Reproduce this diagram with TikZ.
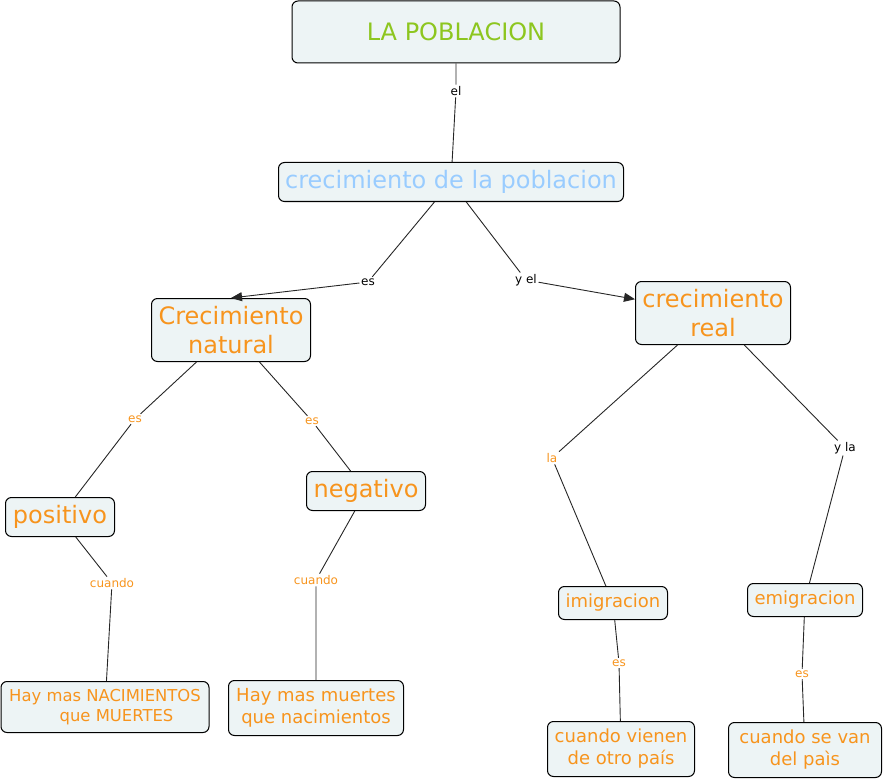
\documentclass[tikz,border=0pt]{standalone}
\usepackage{fontspec}
\setmainfont{DejaVu Sans}
\usetikzlibrary{arrows.meta}
\definecolor{boxfill}{RGB}{237,244,245}
\definecolor{titlegreen}{RGB}{141,198,31}
\definecolor{skyblue}{RGB}{153,204,255}
\definecolor{conceptorange}{RGB}{247,148,29}

\begin{document}
\begin{tikzpicture}[x=1pt, y=-1pt,
	concept/.style={draw, line width=1pt, rounded corners=6pt, fill=boxfill, align=center, inner sep=2pt, text=conceptorange},
	linkword/.style={inner sep=1.5pt, font=\fontsize{12}{14}\selectfont},
	link/.style={draw=black!85, line width=0.9pt}]
	\useasboundingbox (0,0) rectangle (884,781);

	% concepts
	\node[concept, minimum width=328, minimum height=62, text=titlegreen, font=\fontsize{24}{28}\selectfont] (poblacion) at (456,32) {LA POBLACION};
	\node[concept, minimum width=345, minimum height=39, text=skyblue, font=\fontsize{24}{28}\selectfont] (crecpob) at (451,182) {crecimiento de la poblacion};
	\node[concept, minimum width=159, minimum height=63, font=\fontsize{24}{29}\selectfont] (natural) at (231,330) {Crecimiento\\natural};
	\node[concept, minimum width=155, minimum height=63, font=\fontsize{24}{29}\selectfont] (real) at (713,313) {crecimiento\\real};
	\node[concept, minimum width=109, minimum height=39, font=\fontsize{24}{28}\selectfont] (positivo) at (60,517) {positivo};
	\node[concept, minimum width=119, minimum height=39, font=\fontsize{24}{28}\selectfont] (negativo) at (366,491) {negativo};
	\node[concept, minimum width=208, minimum height=51, font=\fontsize{16.4}{20}\selectfont] (masnac) at (105,707) {Hay mas NACIMIENTOS\\\hspace{1.4em}que MUERTES};
	\node[concept, minimum width=175, minimum height=55, font=\fontsize{18}{22}\selectfont] (masmue) at (316,708) {Hay mas muertes\\que nacimientos};
	\node[concept, minimum width=109, minimum height=33, font=\fontsize{18}{21}\selectfont] (imig) at (613,603) {imigracion};
	\node[concept, minimum width=115, minimum height=33, font=\fontsize{18}{21}\selectfont] (emig) at (805,600) {emigracion};
	\node[concept, minimum width=147, minimum height=55, font=\fontsize{18}{22}\selectfont] (vienen) at (621,749) {cuando vienen\\de otro país};
	\node[concept, minimum width=153, minimum height=55, font=\fontsize{18}{22}\selectfont] (sevan) at (805,750) {cuando se van\\del paìs};

	% linking words
	\node[linkword] (el) at (456,91) {el};
	\node[linkword] (esnat) at (368,282) {es};
	\node[linkword] (yel) at (526,280) {y el};
	\node[linkword, text=conceptorange] (espos) at (135,419) {es};
	\node[linkword, text=conceptorange] (esneg) at (312,421) {es};
	\node[linkword, text=conceptorange] (cuandopos) at (112,583) {cuando};
	\node[linkword, text=conceptorange] (cuandoneg) at (316,580) {cuando};
	\node[linkword, text=conceptorange] (la) at (552,458) {la};
	\node[linkword] (yla) at (845,448) {y la};
	\node[linkword, text=conceptorange] (esimig) at (619,663) {es};
	\node[linkword, text=conceptorange] (esemig) at (802,674) {es};

	% connectors
	\draw[link] (poblacion) -- (el) -- (crecpob);
	\draw[link] (crecpob) -- (esnat);
	\draw[link, -{Triangle[length=11pt, width=9pt]}] (esnat) -- (natural.north);
	\draw[link] (crecpob) -- (yel);
	\draw[link, -{Triangle[length=11pt, width=9pt]}] (yel) -- (real.170);
	\draw[link] (natural) -- (espos) -- (positivo);
	\draw[link] (natural) -- (esneg) -- (negativo);
	\draw[link] (positivo) -- (cuandopos) -- (masnac);
	\draw[link] (negativo) -- (cuandoneg) -- (masmue);
	\draw[link] (real) -- (la) -- (imig);
	\draw[link] (real) -- (yla) -- (emig);
	\draw[link] (imig) -- (esimig) -- (vienen);
	\draw[link] (emig) -- (esemig) -- (sevan);
\end{tikzpicture}
\end{document}
